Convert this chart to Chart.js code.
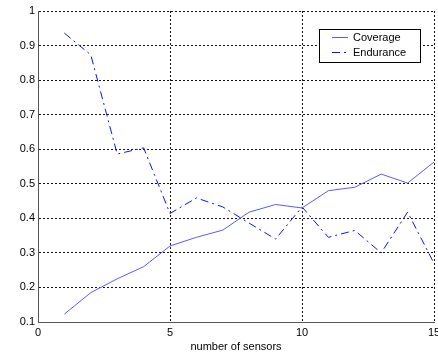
<!DOCTYPE html>
<html>
<head>
<meta charset="utf-8">
<script src="https://cdn.jsdelivr.net/npm/chart.js@4"></script>
<style>
  body { margin: 0; background: #fff; }
  #wrap { width: 438px; height: 356px; }
</style>
</head>
<body>
<div id="wrap"><canvas id="chart1" width="438" height="356"></canvas></div>
<script>
// data
const sensors = [1, 2, 3, 4, 5, 6, 7, 8, 9, 10, 11, 12, 13, 14, 15];
const coverage = [0.123, 0.185, 0.225, 0.26, 0.32, 0.345, 0.366, 0.418, 0.44, 0.43, 0.48, 0.49, 0.528, 0.502, 0.563];
const endurance = [0.936, 0.873, 0.586, 0.604, 0.414, 0.459, 0.433, 0.386, 0.34, 0.433, 0.345, 0.365, 0.3, 0.418, 0.27];
const seriesNames = ['Coverage', 'Endurance'];
const yTicks = [0.1, 0.2, 0.3, 0.4, 0.5, 0.6, 0.7, 0.8, 0.9, 1];

const FONT = 'Liberation Sans, Arial, sans-serif';
const gridColor = '#111';

// legend box inside the plot, like the old matlab one
const boxLegend = {
  id: 'boxLegend',
  afterDraw(chart) {
    const ctx = chart.ctx;
    const x = 319, y = 29, w = 101, h = 33;
    ctx.save();
    ctx.fillStyle = '#fff';
    ctx.fillRect(x, y, w, h);
    ctx.strokeStyle = '#000';
    ctx.lineWidth = 1;
    ctx.strokeRect(x + 0.5, y + 0.5, w, h);
    ctx.font = '11px ' + FONT;
    ctx.textBaseline = 'middle';
    chart.data.datasets.forEach((ds, i) => {
      const ly = y + 8 + i * 15;
      ctx.strokeStyle = ds.borderColor;
      ctx.setLineDash(ds.borderDash || []);
      ctx.beginPath();
      ctx.moveTo(x + 13, ly + 0.5);
      ctx.lineTo(x + 29, ly + 0.5);
      ctx.stroke();
      ctx.setLineDash([]);
      ctx.fillStyle = '#000';
      ctx.fillText(ds.label, x + 34, ly + 1);
    });
    ctx.restore();
  }
};

var ctx = document.getElementById('chart1').getContext('2d');
var chart = new Chart(ctx, {
  type: 'line',
  data: {
    labels: sensors,
    datasets: [
      {
        label: seriesNames[0],
        data: sensors.map((s, i) => ({ x: s, y: coverage[i] })),
        borderColor: '#5a5aff',
        borderWidth: 1,
        pointRadius: 0,
        fill: false,
        tension: 0,
      },
      {
        label: seriesNames[1],
        data: sensors.map((s, i) => ({ x: s, y: endurance[i] })),
        borderColor: '#1010ff',
        borderWidth: 1,
        borderDash: [8, 4, 2, 4],
        pointRadius: 0,
        fill: false,
        tension: 0,
      },
    ],
  },
  options: {
    responsive: false,
    animation: false,
    layout: { padding: { top: 11, right: 4, left: 0, bottom: 0 } },
    plugins: {
      legend: { display: false },
      tooltip: { enabled: false },
    },
    scales: {
      x: {
        type: 'linear',
        min: 0,
        max: 15,
        ticks: {
          stepSize: 5,
          padding: 4,
          color: '#000',
          maxRotation: 0,
          font: { family: FONT, size: 11 },
        },
        grid: { color: gridColor, drawTicks: false },
        border: { display: true, color: '#555', width: 1, dash: [2, 2] },
        title: {
          display: true,
          text: 'number of sensors',
          color: '#000',
          font: { family: FONT, size: 11 },
          padding: { top: 0, bottom: 2 },
        },
        afterFit(scale) {
          scale.height = 34;
          scale.paddingLeft = 0;
          scale.paddingRight = 0;
        },
      },
      y: {
        min: 0.1,
        max: 1,
        afterBuildTicks(scale) {
          scale.ticks = yTicks.map(v => ({ value: v }));
        },
        ticks: {
          padding: 3,
          color: '#000',
          font: { family: FONT, size: 11 },
          callback: v => String(+v.toFixed(1)),
        },
        grid: { color: gridColor, drawTicks: false },
        border: { display: true, color: '#555', width: 1, dash: [2, 2] },
        afterFit(scale) {
          scale.width = 38;
          scale.paddingTop = 0;
          scale.paddingBottom = 0;
        },
      },
    },
  },
  plugins: [boxLegend],
});
</script>
</body>
</html>
